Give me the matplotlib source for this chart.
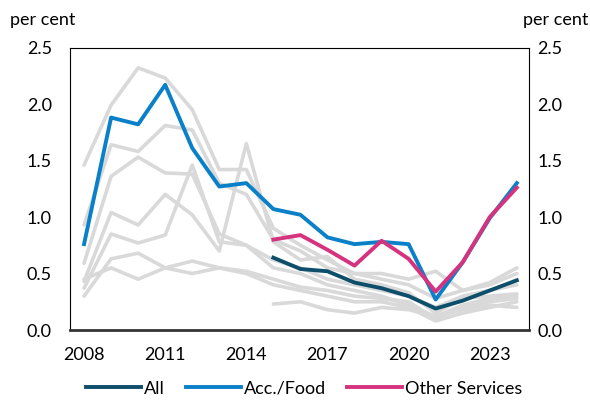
import matplotlib
matplotlib.use("Agg")
import matplotlib.pyplot as plt
import numpy as np

plt.rcParams['font.family'] = ['Lato', 'DejaVu Sans']

years = list(range(2008, 2025))
years_late = list(range(2015, 2025))

acc_food = [0.76, 1.88, 1.82, 2.17, 1.61, 1.27, 1.30, 1.07, 1.02, 0.82, 0.76, 0.78, 0.76, 0.27, 0.60, 0.99, 1.30]
other_services = [0.80, 0.84, 0.71, 0.57, 0.79, 0.63, 0.34, 0.60, 1.00, 1.26]
all_ind = [0.64, 0.54, 0.52, 0.42, 0.37, 0.30, 0.19, 0.26, 0.35, 0.44]

grey_1 = [1.46, 1.99, 2.32, 2.23, 1.95, 1.42, 1.42, 0.90, 0.75, 0.62, 0.50, 0.45, 0.40, 0.28, 0.35, 0.42, 0.55]
grey_2 = [0.93, 1.64, 1.58, 1.81, 1.77, 1.30, 1.20, 0.80, 0.70, 0.55, 0.50, 0.50, 0.45, 0.52, 0.35, 0.40, 0.50]
grey_3 = [0.59, 1.36, 1.53, 1.39, 1.38, 0.85, 0.75, 0.62, 0.55, 0.45, 0.40, 0.35, 0.30, 0.20, 0.30, 0.35, 0.40]
grey_4 = [0.43, 1.04, 0.93, 1.20, 1.02, 0.70, 1.65, 0.78, 0.62, 0.65, 0.45, 0.40, 0.33, 0.15, 0.28, 0.30, 0.32]
grey_5 = [0.37, 0.85, 0.77, 0.84, 1.46, 0.78, 0.75, 0.55, 0.50, 0.40, 0.35, 0.30, 0.22, 0.12, 0.22, 0.28, 0.30]
grey_6 = [0.30, 0.63, 0.68, 0.55, 0.61, 0.55, 0.52, 0.45, 0.38, 0.35, 0.30, 0.28, 0.25, 0.10, 0.20, 0.25, 0.28]
grey_7 = [0.45, 0.55, 0.45, 0.55, 0.50, 0.55, 0.50, 0.40, 0.35, 0.30, 0.25, 0.25, 0.20, 0.08, 0.15, 0.20, 0.25]
grey_8 = [0.23, 0.25, 0.18, 0.15, 0.20, 0.18, 0.12, 0.18, 0.22, 0.20]

grey_full = [grey_1, grey_2, grey_3, grey_4, grey_5, grey_6, grey_7]
grey_late = [grey_8]

y_ticks = [0.0, 0.5, 1.0, 1.5, 2.0, 2.5]
x_ticks = [2008, 2011, 2014, 2017, 2020, 2023]

FS = 13

fig = plt.figure(figsize=(5.90, 4.01), dpi=100)
ax = fig.add_axes([0.1186, 0.177, 0.778, 0.7045])

grey = '#d9d9d9'
for g in grey_full:
    ax.plot(years, g, color=grey, lw=2.6, solid_capstyle='round', solid_joinstyle='round', zorder=1)
for g in grey_late:
    ax.plot(years_late, g, color=grey, lw=2.6, solid_capstyle='round', solid_joinstyle='round', zorder=1)

ax.plot(years_late, all_ind, color='#0d4f6b', lw=2.8, label='All', zorder=3)
ax.plot(years, acc_food, color='#0a80c8', lw=2.8, label='Acc./Food', zorder=3)
ax.plot(years_late, other_services, color='#d6337f', lw=2.8, label='Other Services', zorder=4)

ax.set_xlim(2007.48, 2024.45)
ax.set_ylim(0, 2.5)
ax.set_yticks(y_ticks)
ax.set_yticklabels([f"{v:.1f}" for v in y_ticks])
ax.set_xticks(x_ticks)
ax.tick_params(axis='both', length=0, labelsize=FS, colors='black')
ax.tick_params(axis='y', pad=13)
ax.tick_params(axis='x', pad=12)

for s in ['left', 'right', 'top']:
    ax.spines[s].set_linewidth(0.8)
    ax.spines[s].set_color('black')
ax.spines['bottom'].set_linewidth(2.0)
ax.spines['bottom'].set_color('#333333')

ax2 = ax.twinx()
ax2.set_ylim(0, 2.5)
ax2.set_yticks(y_ticks)
ax2.set_yticklabels([f"{v:.1f}" for v in y_ticks])
ax2.tick_params(axis='y', length=0, labelsize=FS, pad=6)
for s in ax2.spines.values():
    s.set_visible(False)

fig.text(0.017, 0.95, 'per cent', fontsize=FS, ha='left', va='center')
fig.text(0.997, 0.95, 'per cent', fontsize=FS, ha='right', va='center')

ax.legend(loc='lower center', bbox_to_anchor=(0.515, -0.03), bbox_transform=fig.transFigure,
          ncol=3, frameon=False, fontsize=FS, handlelength=3.05, handletextpad=0.17,
          columnspacing=1.16)

fig.savefig('out.png', dpi=100)
